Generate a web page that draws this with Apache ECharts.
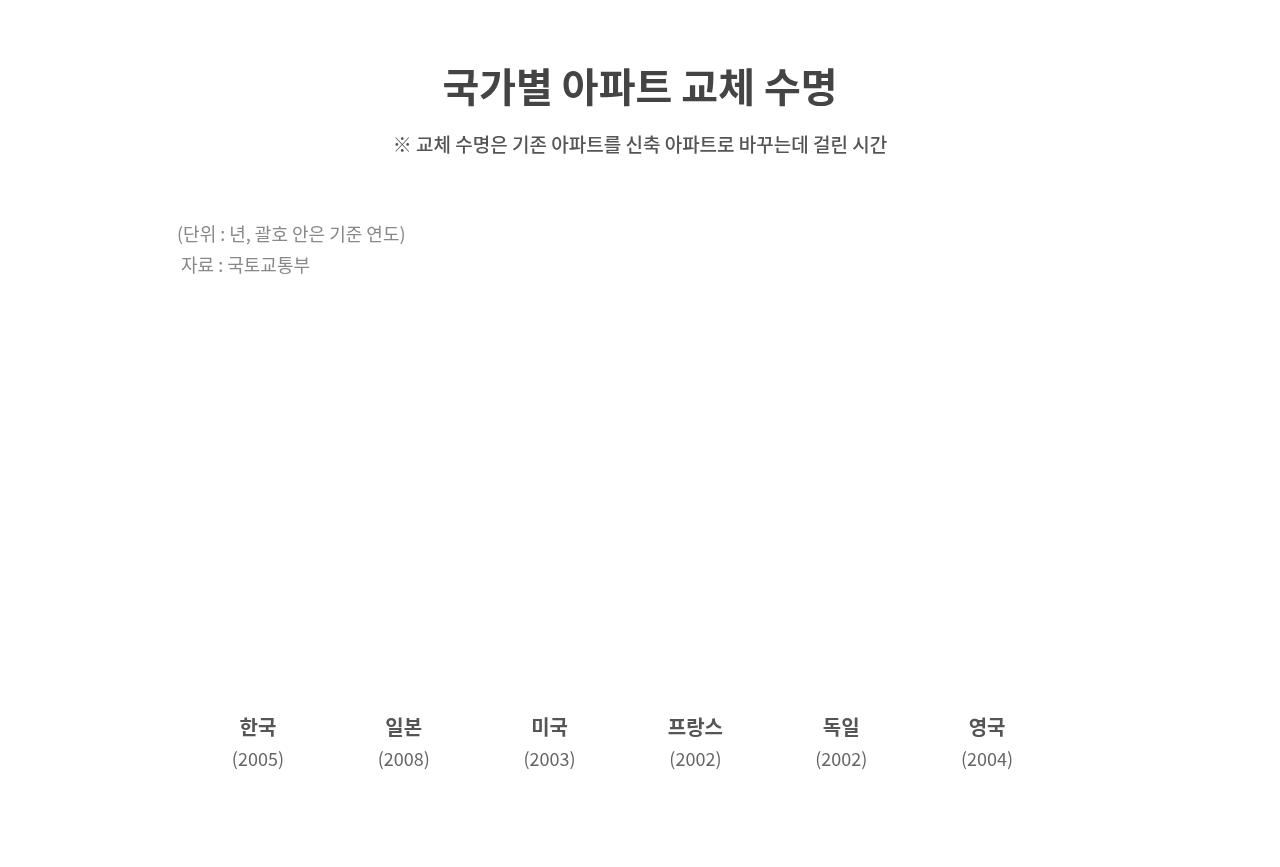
<!DOCTYPE html>
<html>
<head>
<meta charset="utf-8">
<title>국가별 아파트 교체 수명</title>
<script src="https://cdn.jsdelivr.net/npm/echarts@6/dist/echarts.min.js"></script>
<style>
  html, body { margin: 0; padding: 0; background: #fff; }
  #main { width: 1280px; height: 867px; }
</style>
</head>
<body>
<div id="main"></div>
<script>
var dom = document.getElementById("main");
var myChart = echarts.init(dom, null, { renderer: "canvas" });

var FONT = '"Noto Sans CJK KR", "Noto Sans", sans-serif';

// 국가 / 기준 연도
var countries = ["한국", "일본", "미국", "프랑스", "독일", "영국"];
var baseYears = ["2005", "2008", "2003", "2002", "2002", "2004"];
// no bars are drawn in the reference picture, so no values are shown
var lifespans = ["-", "-", "-", "-", "-", "-"];

var option = {
  backgroundColor: "#fff",
  animation: false,
  title: [
    {
      text: "국가별 아파트 교체 수명",
      left: "center",
      top: 59,
      textStyle: {
        fontFamily: FONT,
        fontSize: 40,
        fontWeight: "bold",
        color: "#444",
        lineHeight: 46,
      },
    },
    {
      text: "※ 교체 수명은 기존 아파트를 신축 아파트로 바꾸는데 걸린 시간",
      left: "center",
      top: 127,
      textStyle: {
        fontFamily: FONT,
        fontSize: 19,
        fontWeight: 500,
        color: "#555",
        lineHeight: 26,
      },
    },
    {
      text: "(단위 : 년, 괄호 안은 기준 연도)\n 자료 : 국토교통부",
      left: 172,
      top: 214,
      textStyle: {
        fontFamily: FONT,
        fontSize: 18,
        fontWeight: "normal",
        color: "#888",
        lineHeight: 31,
      },
    },
  ],
  grid: {
    left: 185,
    right: 220,
    top: 300,
    bottom: 164,
  },
  xAxis: {
    type: "category",
    data: countries,
    axisLine: { show: false },
    axisTick: { show: false },
    splitLine: { show: false },
    axisLabel: {
      margin: 8,
      interval: 0,
      formatter: function (value, index) {
        return "{n|" + value + "}\n{y|(" + baseYears[index] + ")}";
      },
      rich: {
        n: {
          fontFamily: FONT,
          fontSize: 20,
          fontWeight: "bold",
          color: "#555",
          lineHeight: 32,
        },
        y: {
          fontFamily: FONT,
          fontSize: 18,
          color: "#666",
          lineHeight: 32,
        },
      },
    },
  },
  yAxis: {
    type: "value",
    show: false,
    min: 0,
    max: 150,
  },
  series: [
    {
      name: "교체 수명",
      type: "bar",
      barWidth: 60,
      itemStyle: { color: "#8fa9c7" },
      data: lifespans,
    },
  ],
};

myChart.setOption(option);
</script>
</body>
</html>
